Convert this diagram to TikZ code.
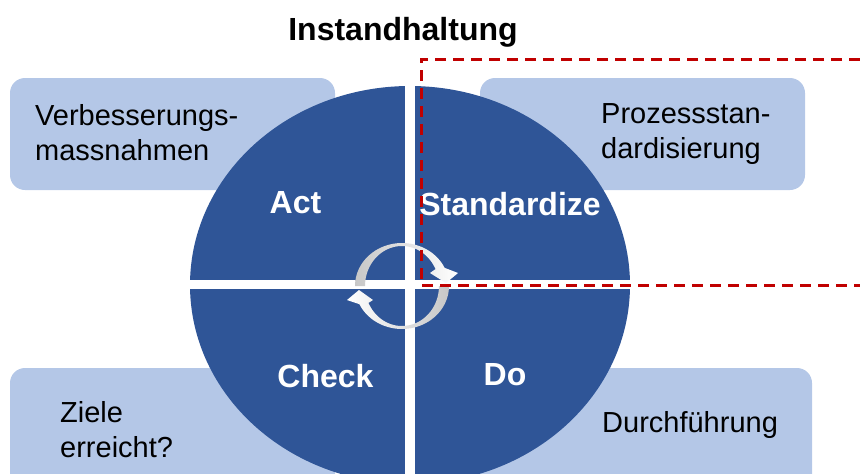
\documentclass[tikz,border=0pt]{standalone}
\usepackage{fontspec}
\setmainfont{Liberation Sans}
\definecolor{cycleblue}{HTML}{2F5597}
\definecolor{notefill}{HTML}{B4C7E7}
\definecolor{markred}{HTML}{C00000}
\tikzset{
  notebox/.style={fill=notefill, rounded corners=15pt},
  notetext/.style={anchor=base west, inner sep=0pt, align=left,
    font=\fontsize{29}{35}\selectfont},
  phasetext/.style={anchor=base, inner sep=0pt, text=white,
    font=\fontsize{32}{38}\selectfont\bfseries},
  markline/.style={draw=markred, line width=3pt, dash pattern=on 11pt off 7pt}
}
\begin{document}
\begin{tikzpicture}[x=1pt,y=-1pt]
       \useasboundingbox (0,0) rectangle (860,474);
       \clip (0,0) rectangle (860,474);
       \fill[notebox] (10,78) rectangle (335,190);
       \fill[notebox] (480,78) rectangle (805,190);
       \fill[notebox] (10,368) rectangle (335,500);
       \fill[notebox] (480,368) rectangle (812,500);
       \fill[cycleblue] (410,285) ellipse [x radius=220pt, y radius=199pt];
       \fill[white] (405,80) rectangle (415,480);
       \fill[white] (185,279.5) rectangle (636,289);
       \shade[left color=black!22, right color=white]
         plot[domain=180:335,samples=40] ({402+47*cos(\x)},{286+43*sin(\x)})
         -- (458,273) -- (446,283) -- (430,273)
         -- plot[domain=335:180,samples=40] ({402+37*cos(\x)},{286+40*sin(\x)}) -- cycle;
       \shade[left color=white, right color=black!22]
         plot[domain=0:155,samples=40] ({402+47*cos(\x)},{286+43*sin(\x)})
         -- (347,300) -- (359,290) -- (373,300)
         -- plot[domain=155:0,samples=40] ({402+37*cos(\x)},{286+40*sin(\x)}) -- cycle;
       \node[anchor=base, inner sep=0pt, font=\fontsize{32}{38}\selectfont\bfseries]
         (title) at (403,40) {Instandhaltung};
       \node[notetext] (improve) at (35,160) {Verbesserungs-\\massnahmen};
       \node[notetext] (standard) at (601,158) {Prozessstan-\\dardisierung};
       \node[notetext] (goals) at (60,457) {Ziele\\erreicht?};
       \node[notetext] (execute) at (602,432) {Durchführung};
       \node[phasetext] (act) at (295.5,213) {Act};
       \node[phasetext] (stdz) at (510,215) {Standardize};
       \node[phasetext] (check) at (325.5,387) {Check};
       \node[phasetext] (do) at (505,385) {Do};
       \coordinate (corner) at (421,285);
       \coordinate (topedge) at (860,59);
       \coordinate (sideedge) at (860,285);
       \draw[markline] (topedge) -- (corner |- topedge) -- (corner) -- (sideedge);
     \end{tikzpicture}
\end{document}
